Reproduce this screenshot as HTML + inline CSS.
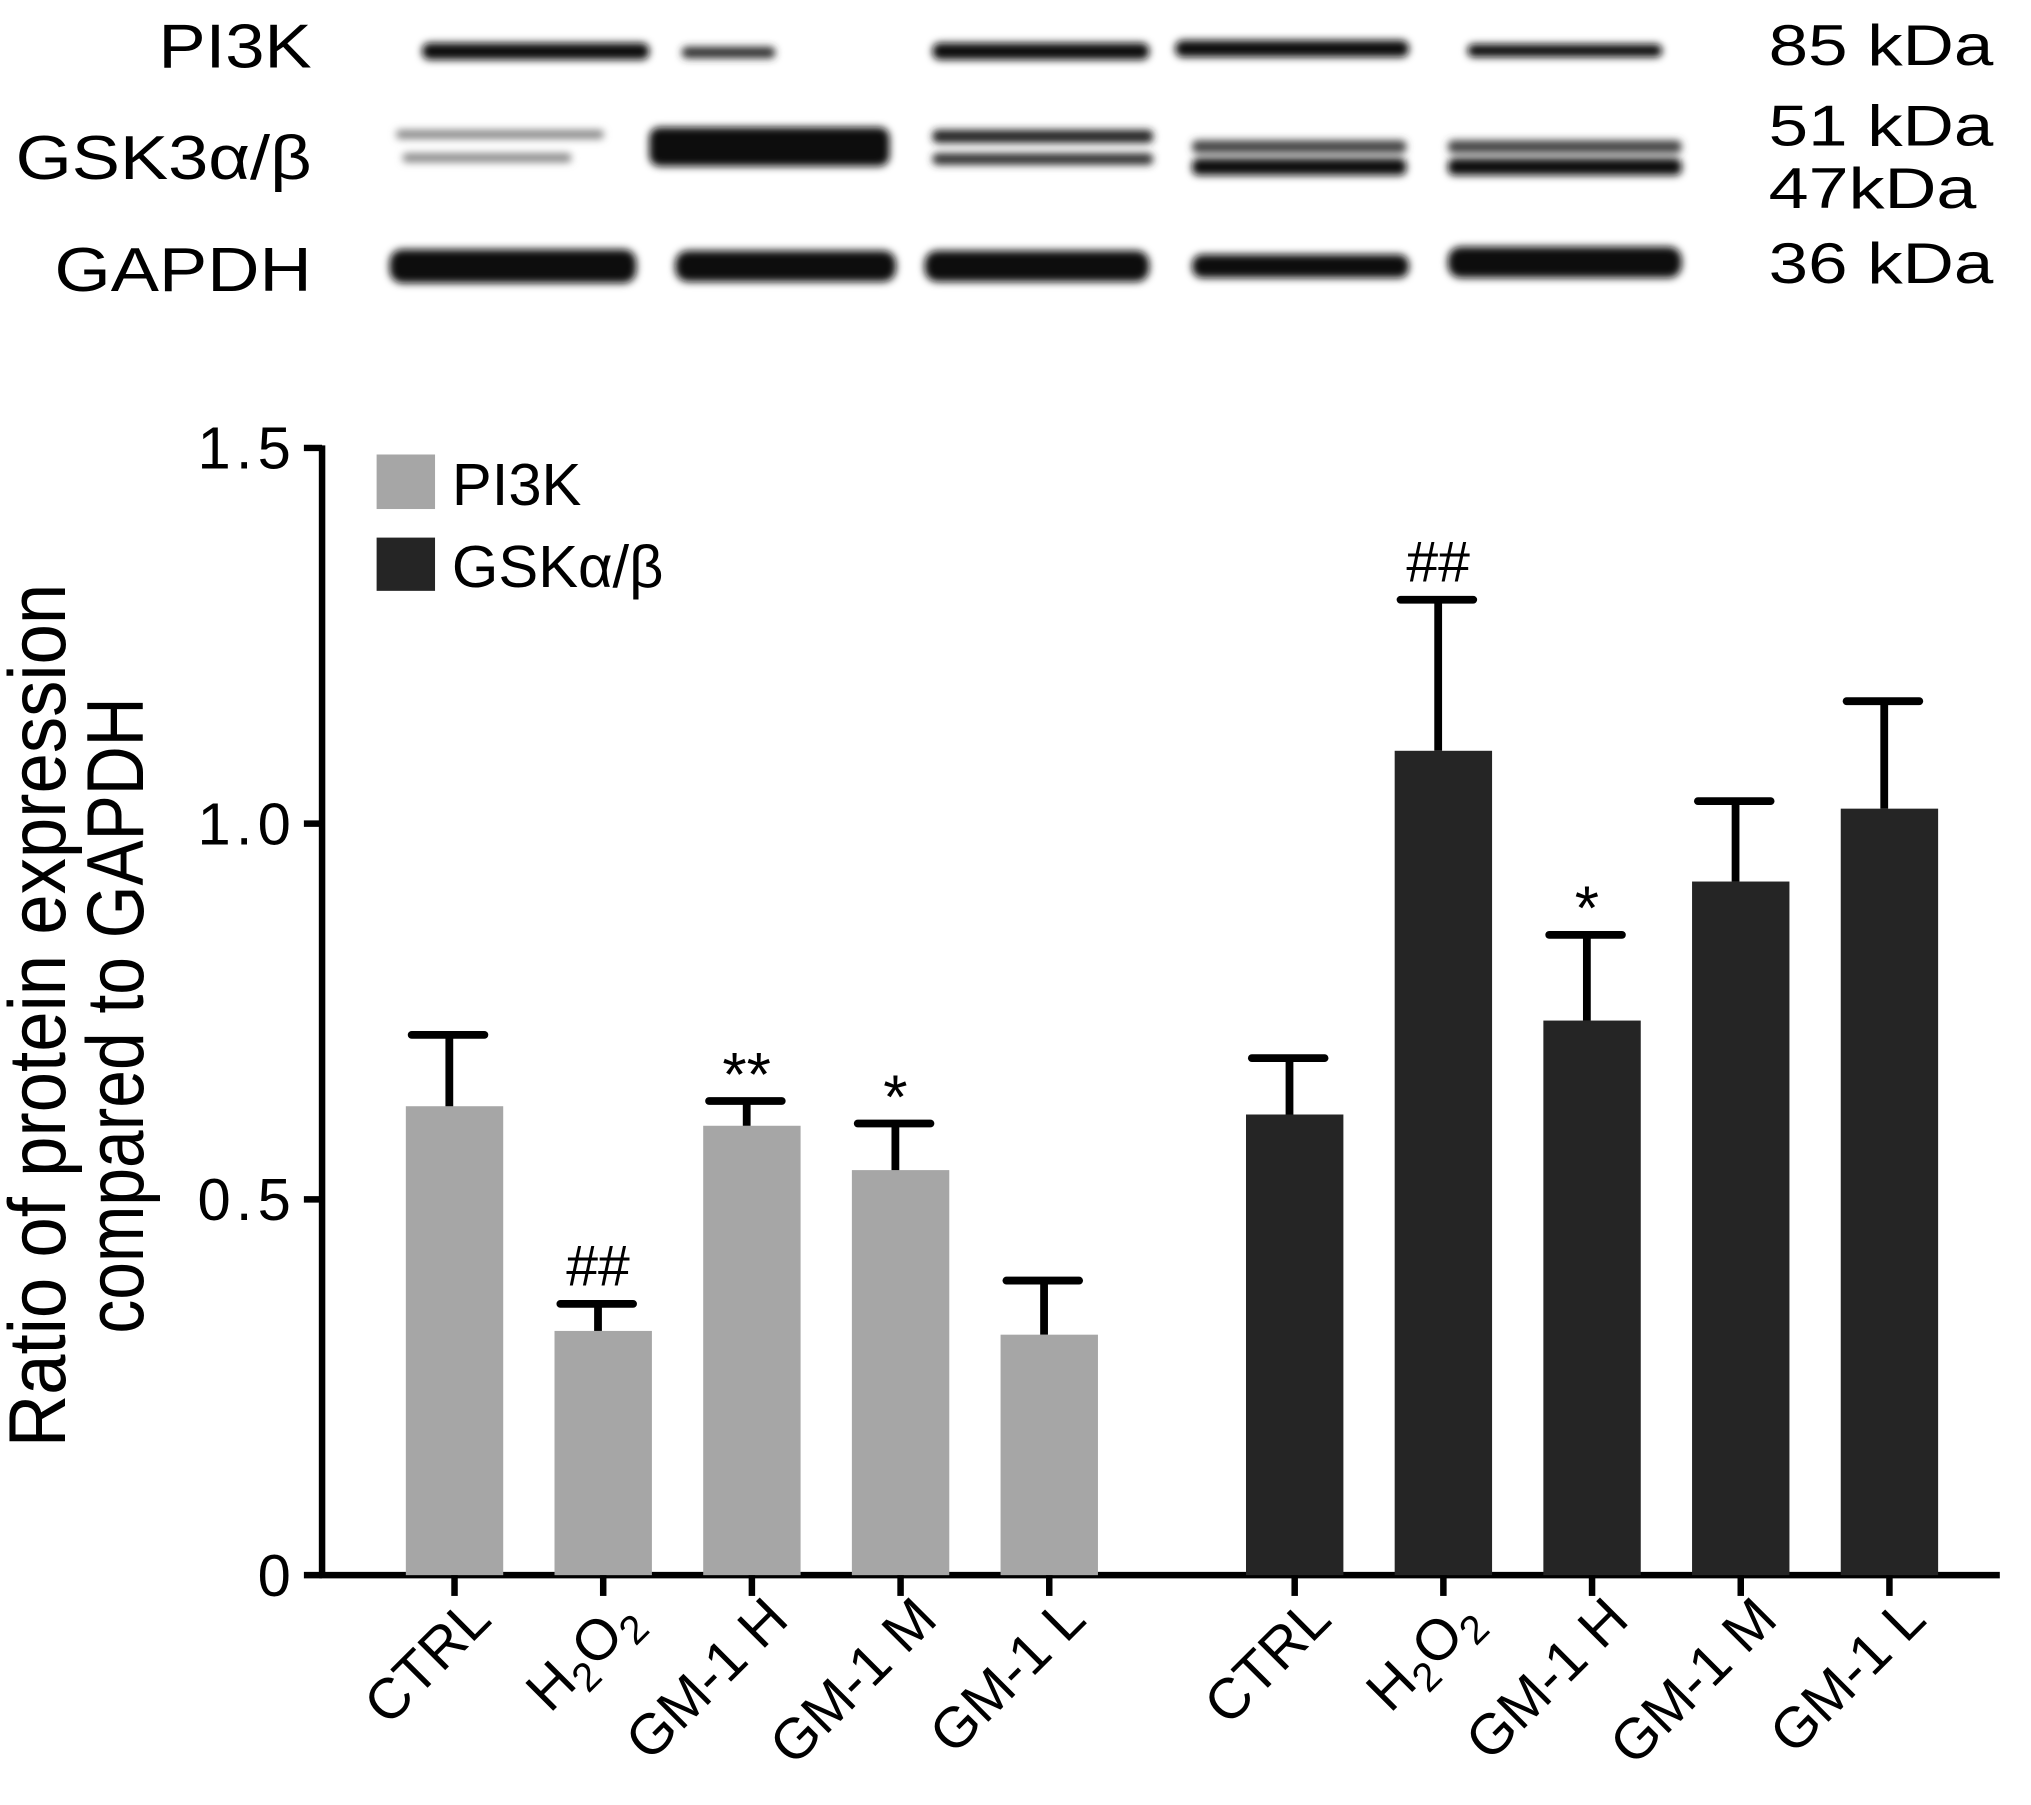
<!DOCTYPE html>
<html><head><meta charset="utf-8"><style>
html,body{margin:0;padding:0;background:#fff;}
svg{display:block;font-family:"Liberation Sans",Arial,sans-serif;}
</style></head><body>
<svg id="chart" width="2031" height="1805" viewBox="0 0 1564 1390" xmlns="http://www.w3.org/2000/svg">
<defs><filter id="blur" x="-20%" y="-100%" width="140%" height="300%"><feGaussianBlur stdDeviation="3"/></filter></defs>
<g id="blot">
  <text x="240" y="52" font-size="48" text-anchor="end" textLength="118" lengthAdjust="spacingAndGlyphs">PI3K</text>
  <text x="240" y="138" font-size="48" text-anchor="end" textLength="228" lengthAdjust="spacingAndGlyphs">GSK3α/β</text>
  <text x="240" y="224" font-size="48" text-anchor="end" textLength="198" lengthAdjust="spacingAndGlyphs">GAPDH</text>
  <text x="1362" y="50" font-size="44" textLength="173" lengthAdjust="spacingAndGlyphs">85 kDa</text>
  <text x="1362" y="112" font-size="44" textLength="173" lengthAdjust="spacingAndGlyphs">51 kDa</text>
  <text x="1362" y="160" font-size="44" textLength="160" lengthAdjust="spacingAndGlyphs">47kDa</text>
  <text x="1362" y="218" font-size="44" textLength="173" lengthAdjust="spacingAndGlyphs">36 kDa</text>
  <g filter="url(#blur)" fill="#111">
    <rect x="325" y="33" width="175" height="13" rx="6"/>
    <rect x="525" y="36" width="72" height="9" rx="4" fill="#333"/>
    <rect x="718" y="33" width="167" height="13" rx="6"/>
    <rect x="905" y="31" width="180" height="13" rx="6"/>
    <rect x="1130" y="34" width="150" height="10" rx="5"/>
    <rect x="305" y="100" width="160" height="7" rx="3" fill="#888"/>
    <rect x="310" y="118" width="130" height="7" rx="3" fill="#888"/>
    <rect x="500" y="98" width="185" height="30" rx="8"/>
    <rect x="718" y="100" width="170" height="10" rx="4" fill="#222"/>
    <rect x="718" y="118" width="170" height="9" rx="4" fill="#333"/>
    <rect x="918" y="108" width="165" height="10" rx="4" fill="#444"/>
    <rect x="918" y="122" width="165" height="13" rx="5"/>
    <rect x="1115" y="108" width="180" height="10" rx="4" fill="#444"/>
    <rect x="1115" y="122" width="180" height="13" rx="5"/>
    <rect x="300" y="192" width="190" height="26" rx="10"/>
    <rect x="520" y="193" width="170" height="24" rx="10"/>
    <rect x="712" y="193" width="173" height="24" rx="10"/>
    <rect x="918" y="196" width="167" height="18" rx="8"/>
    <rect x="1115" y="190" width="180" height="24" rx="10"/>
  </g>
</g>
<g id="plot"></g>
</svg>
<script>
const categories = ["CTRL","H2O2","GM-1 H","GM-1 M","GM-1 L"];
const pi3kValues = [0.624,0.325,0.598,0.539,0.320];
const pi3kErrors = [0.095,0.036,0.033,0.062,0.072];
const gskValues = [0.613,1.097,0.738,0.923,1.020];
const gskErrors = [0.075,0.201,0.114,0.107,0.143];
const pi3kMarks = ["","##","**","*",""];
const gskMarks = ["","##","*","",""];
const yTicks = [0,0.5,1.0,1.5];
const yTickLabels = ["0","0.5","1.0","1.5"];

const NS="http://www.w3.org/2000/svg";
const g=document.getElementById('plot');
const X0=248, Y0=1213, PXU=578.7;
function y(v){return Y0 - v*PXU;}
function xc(series,i){return (series===0?350:997)+i*114.5;}
function mk(tag,attrs,text){const e=document.createElementNS(NS,tag);for(const k in attrs)e.setAttribute(k,attrs[k]);if(text!==undefined)e.textContent=text;g.appendChild(e);return e;}

let e=mk('line',{x1:X0,y1:y(1.5)-2,x2:X0,y2:Y0+2,stroke:'#000','stroke-width':5});


e=mk('line',{x1:X0-2,y1:Y0,x2:1540,y2:Y0,stroke:'#000','stroke-width':5});


yTicks.forEach((t,i)=>{
  let l=mk('line',{x1:X0-14,y1:y(t),x2:X0,y2:y(t),stroke:'#000','stroke-width':5});
  
  
  let tx=mk('text',{x:X0-20,y:y(t)+16,'font-size':46,'text-anchor':'end','letter-spacing':4},yTickLabels[i]);
  
  
});
e=mk('text',{transform:'translate(50,782) rotate(-90)','font-size':62,'text-anchor':'middle',textLength:665,lengthAdjust:'spacingAndGlyphs'},'Ratio of protein expression');


e=mk('text',{transform:'translate(110,782) rotate(-90)','font-size':62,'text-anchor':'middle',textLength:490,lengthAdjust:'spacingAndGlyphs'},'compared to GAPDH');



function drawSeries(s,vals,errs,marks,color,name){
  vals.forEach((v,i)=>{
    const c=xc(s,i), w=75;
    let b=mk('rect',{x:c-w/2,y:y(v),width:w,height:Y0-y(v),fill:color});
    
    
    const top=y(v+errs[i]);
    let el=mk('line',{x1:c-4,y1:y(v),x2:c-4,y2:top,stroke:'#000','stroke-width':6});
    
    
    let cap=mk('line',{x1:c-33,y1:top,x2:c+23,y2:top,stroke:'#000','stroke-width':6,'stroke-linecap':'round'});
    
    
    if(marks[i]){
      let m=mk('text',{x:c-4,y:top-(marks[i][0]==='#'?14:4),'font-size':marks[i][0]==='#'?44:48,'text-anchor':'middle'},marks[i]);
      
      
    }
    let t=mk('line',{x1:c,y1:Y0,x2:c,y2:Y0+16,stroke:'#000','stroke-width':5});
    
    
    const lab=mk('text',{transform:`translate(${c+30},${Y0+36}) rotate(-45)`,'font-size':44,'text-anchor':'end'});
    
    
    if(categories[i]==='H2O2'){
      lab.innerHTML='H<tspan font-size="31" dy="10">2</tspan><tspan dy="-10">O</tspan><tspan font-size="31" dy="10">2</tspan>';
    } else lab.textContent=categories[i];
  });
}
drawSeries(0,pi3kValues,pi3kErrors,pi3kMarks,'#a6a6a6','pi3k');
drawSeries(1,gskValues,gskErrors,gskMarks,'#252525','gsk');

e=mk('rect',{x:290,y:350,width:45,height:42,fill:'#a6a6a6'});


e=mk('text',{x:348,y:389,'font-size':46},'PI3K');


e=mk('rect',{x:290,y:414,width:45,height:41,fill:'#252525'});


e=mk('text',{x:348,y:452,'font-size':46},'GSKα/β');


</script>
</body></html>
